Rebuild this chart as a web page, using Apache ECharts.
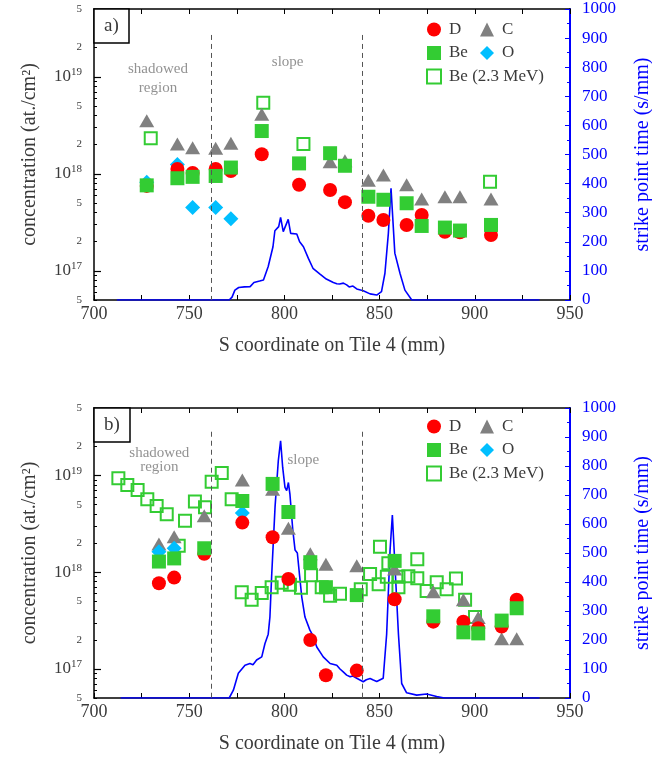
<!DOCTYPE html>
<html>
<head>
<meta charset="utf-8">
<title>Tile 4 concentrations</title>
<script src="https://cdn.jsdelivr.net/npm/echarts@6/dist/echarts.min.js"></script>
<style>
  html, body { margin: 0; padding: 0; background: #fff; }
  #chart { width: 652px; height: 760px; }
</style>
</head>
<body>
<div id="chart"></div>
<script>
// panel a) marker positions (S coordinate, mm) and concentrations (at./cm2)
const posA = [727.7, 743.8, 751.8, 763.9, 771.9, 788.1, 807.7, 824.0, 831.8, 844.1, 852.0, 864.2, 872.1, 884.3, 892.2, 908.5]
const dA  = [7.5e17, 1.12e18, 1.02e18, 1.12e18, 1.07e18, 1.59e18, 7.7e17, 6.8e17, 5.1e17, 3.7e17, 3.34e17, 2.97e17, 3.76e17, 2.53e17, 2.5e17, 2.34e17]
const cA  = [3.53e18, 2.03e18, 1.86e18, 1.83e18, 2.06e18, 4.1e18, null, 1.33e18, 1.36e18, 8.6e17, 9.7e17, 7.7e17, 5.5e17, 5.8e17, 5.8e17, 5.5e17]
const beA = [7.6e17, 9.0e17, 9.3e17, 9.5e17, 1.16e18, 2.76e18, 1.28e18, 1.63e18, 1.21e18, 5.8e17, 5.4e17, 4.97e17, 2.9e17, 2.79e17, 2.6e17, 2.97e17]
const oA  = [8.2e17, 1.25e18, 4.5e17, 4.5e17, 3.45e17, null, null, null, null, null, null, null, null, null, null, null]
const be23PosA = [729.8, 788.9, 810.0, 908.0]
const be23A    = [2.32e18, 5.4e18, 2.03e18, 8.3e17]

// panel b)
const posB = [734.1, 742.1, 757.9, 777.9, 793.8, 802.1, 813.6, 821.8, 838.0, 857.9, 878.2, 894.0, 901.8, 914.1, 922.0]
const dB  = [7.7e17, 8.8e17, 1.55e18, 3.26e18, 2.3e18, 8.5e17, 1.99e17, 8.6e16, 9.6e16, 5.25e17, 3.08e17, 3.08e17, 2.63e17, 2.74e17, 5.2e17]
const cB  = [1.96e18, 2.33e18, 3.85e18, 9.0e18, 7.2e18, 2.85e18, 1.55e18, 1.21e18, 1.17e18, 1.08e18, 6.3e17, 5.2e17, 3.4e17, 2.05e17, 2.05e17]
const beB = [1.29e18, 1.39e18, 1.77e18, 5.46e18, 8.2e18, 4.2e18, 1.27e18, 7.0e17, 5.8e17, 1.31e18, 3.5e17, 2.39e17, 2.33e17, 3.16e17, 4.24e17]
const oB  = [1.63e18, 1.77e18, null, 4.1e18, null, null, null, null, null, null, null, null, null, null, null]
const be23PosB = [712.8, 717.5, 722.9, 728.0, 732.9, 738.2, 744.5, 747.8, 753.0, 758.3, 761.8, 767.1, 772.3,
  777.6, 782.8, 788.1, 793.3, 798.6, 802.9, 808.7, 814.0, 819.6, 824.0, 829.2, 840.1, 845.0, 849.5, 850.2,
  853.8, 854.6, 859.9, 859.9, 865.1, 869.8, 869.8, 874.7, 880.0, 885.2, 890.1, 894.9, 900.1]
const be23B = [9.4e18, 7.98e18, 7.1e18, 5.7e18, 4.84e18, 3.97e18, 1.88e18, 3.41e18, 5.4e18, 4.7e18, 8.65e18, 1.06e19, 5.7e18,
  6.2e17, 5.2e17, 6.1e17, 7.0e17, 7.8e17, 7.4e17, 6.9e17, 9.3e17, 7.0e17, 5.7e17, 6.0e17, 6.65e17, 9.6e17, 7.5e17, 1.83e18,
  9.0e17, 1.24e18, 9.0e17, 7.0e17, 9.1e17, 1.36e18, 8.65e17, 6.4e17, 7.9e17, 6.65e17, 8.6e17, 5.2e17, 3.45e17]

// strike point time (s/mm) along S
const spXA = [712, 771, 772.5, 774, 776, 779, 782, 784, 787, 789, 791.5, 794, 795, 797, 798, 799.4, 800.3, 802, 803.3,
  806.5, 808, 810, 812.6, 815, 818.7, 822, 825.7, 827.5, 829, 831, 832.7, 834, 836, 838, 841.4, 845, 848.5, 851,
  852.8, 854.6, 856, 858, 860.7, 863.3, 866.9, 934]
const spYA = [0, 0, 10, 34, 43, 45, 46, 60, 65, 69, 115, 183, 238, 252, 284, 235, 229, 277, 229,
  227, 200, 183, 143, 109, 89, 72, 60, 56, 55, 58, 52, 45, 48, 38, 32, 21, 17, 29,
  92, 229, 384, 161, 92, 34, 0, 0]
const spXB = [714, 771, 773.2, 775.8, 779.3, 781.9, 783.5, 785.4, 788.1, 789.8, 791.5, 792.4, 793.3, 794.2, 795.1, 796.8,
  798, 799.1, 800.3, 801.2, 802.1, 802.9, 804.4, 805.6, 806.8, 808, 809.1, 810.8, 813.4, 815, 817, 820.4, 824,
  827.5, 829.2, 830.9, 832.7, 834.5, 836, 838, 839.7, 841.4, 843, 845, 846.7, 848.5, 851.9, 852.8, 853.7,
  855.5, 856.7, 858.1, 859.9, 861.6, 864.2, 869.5, 874.7, 880, 884, 934]
const spYB = [0, 0, 27, 85, 113, 119, 115, 131, 142, 188, 220, 280, 420, 540, 660, 818,
  887, 795, 726, 715, 743, 703, 580, 510, 500, 420, 349, 279, 234, 215, 176, 142, 119,
  113, 100, 90, 79, 73, 76, 68, 62, 56, 63, 67, 62, 57, 68, 70, 220,
  510, 631, 452, 220, 50, 18, 10, 14, 5, 0, 0]

const dashX = [761.4, 841.1]

const FONT = '"Liberation Serif", "DejaVu Serif", serif'
const GREEN = '#33cc33', RED = '#ff0000', GREY = '#808080', CYAN = '#00bfff', BLUE = '#0000ff'
const TXT = '#3a3a3a'

const decades = [1e17, 1e18, 1e19]
// end labels nudged just inside the range so they are not dropped
const logLabels = [5.001e16, 1e17, 2e17, 5e17, 1e18, 2e18, 5e18, 1e19, 2e19, 4.999e19]
let minorLog = []
;[1e16, 1e17, 1e18, 1e19].forEach(d => {
  for (let m = 2; m <= 9; m++) {
    let v = m * d
    if (v >= 5e16 && v <= 5e19) minorLog.push(v)
  }
})

function pairs(xs, ys) {
  return xs.map((x, i) => [x, ys[i]]).filter(p => p[1] != null)
}

function logFmt(v) {
  let e = Math.floor(Math.log10(v) + 1e-9)
  let m = Math.round(v / Math.pow(10, e))
  if (m === 1) return '{b|10}{e|' + e + '}'
  return '{m|' + m + '}'
}

const grids = [
  { left: 94, top: 9, width: 476, height: 291, outerBoundsMode: 'none', containLabel: false },
  { left: 94, top: 408, width: 476, height: 290, outerBoundsMode: 'none', containLabel: false }
]

const panels = [
  { pos: posA, d: dA, c: cA, be: beA, o: oA, p23: be23PosA, be23: be23A, spx: spXA, spy: spYA,
    dashTop: 2.7e19, shadow: [733.6, 9.6e18], shadowLH: 19, slope: [801.7, 1.42e19] },
  { pos: posB, d: dB, c: cB, be: beB, o: oB, p23: be23PosB, be23: be23B, spx: spXB, spy: spYB,
    dashTop: 2.84e19, shadow: [734.3, 1.46e19], shadowLH: 14, slope: [809.9, 1.45e19] }
]

let xAxis = [], yAxis = [], series = []

panels.forEach((p, k) => {
  let xi = 2 * k, yi = 3 * k
  // bottom and top x axes
  xAxis.push({
    gridIndex: k, type: 'value', min: 700, max: 950, interval: 25, position: 'bottom',
    name: 'S coordinate on Tile 4 (mm)', nameLocation: 'middle', nameGap: 36,
    nameTextStyle: { fontFamily: FONT, fontSize: 20, color: TXT },
    axisLine: { lineStyle: { color: '#000', width: 1.5 } },
    axisTick: { inside: true, length: 5, lineStyle: { color: '#000' } },
    axisLabel: { margin: 5, fontFamily: FONT, fontSize: 18, color: TXT,
      formatter: v => (v % 50 === 0 ? String(v) : '') },
    splitLine: { show: false }
  })
  xAxis.push({
    gridIndex: k, type: 'value', min: 700, max: 950, interval: 25, position: 'top',
    axisLine: { lineStyle: { color: '#000', width: 1.5 } },
    axisTick: { inside: true, length: 5, lineStyle: { color: '#000' } },
    axisLabel: { show: false }, splitLine: { show: false }
  })
  // left log axis: labels + minor ticks
  yAxis.push({
    gridIndex: k, type: 'log', logBase: 10, min: 5e16, max: 5e19, position: 'left',
    name: 'concentration (at./cm²)', nameLocation: 'middle', nameGap: 54, nameRotate: 90,
    nameTextStyle: { fontFamily: FONT, fontSize: 20, color: TXT },
    axisLine: { lineStyle: { color: '#000', width: 1.5 } },
    axisTick: { inside: true, length: 3, customValues: minorLog, lineStyle: { color: '#000' } },
    axisLabel: {
      margin: 12, customValues: logLabels, formatter: logFmt, showMinLabel: true, showMaxLabel: true,
      rich: {
        b: { fontFamily: FONT, fontSize: 17, color: TXT, lineHeight: 20 },
        e: { fontFamily: FONT, fontSize: 11, color: TXT, verticalAlign: 'top', lineHeight: 20 },
        m: { fontFamily: FONT, fontSize: 11, color: TXT }
      }
    },
    splitLine: { show: false }
  })
  // decade ticks
  yAxis.push({
    gridIndex: k, type: 'log', logBase: 10, min: 5e16, max: 5e19, position: 'left',
    axisLine: { show: false },
    axisTick: { inside: true, length: 7, customValues: decades, lineStyle: { color: '#000', width: 1.2 } },
    axisLabel: { show: false }, splitLine: { show: false }
  })
  // right: strike point time
  yAxis.push({
    gridIndex: k, type: 'value', min: 0, max: 1000, interval: 100, position: 'right',
    name: 'strike point time (s/mm)', nameLocation: 'middle', nameGap: 63, nameRotate: 90,
    nameTextStyle: { fontFamily: FONT, fontSize: 20, color: BLUE },
    axisLine: { show: true, lineStyle: { color: BLUE, width: 2 } },
    axisTick: { inside: true, length: 5, lineStyle: { color: BLUE } },
    minorTick: { show: true, splitNumber: 2, length: 3, lineStyle: { color: BLUE } },
    axisLabel: { margin: 12, fontFamily: FONT, fontSize: 17, color: BLUE, formatter: v => String(v) },
    splitLine: { show: false }
  })

  series.push({
    name: 'strike point', type: 'line', xAxisIndex: xi, yAxisIndex: yi + 2,
    data: pairs(p.spx, p.spy), showSymbol: false, symbol: 'none',
    lineStyle: { color: BLUE, width: 1.6 }, silent: true, z: 1
  })
  series.push({
    name: 'Be (2.3 MeV)', type: 'scatter', xAxisIndex: xi, yAxisIndex: yi,
    data: pairs(p.p23, p.be23), symbol: 'rect', symbolSize: 12,
    itemStyle: { color: 'rgba(255,255,255,0)', borderColor: GREEN, borderWidth: 2, opacity: 1 }, z: 2
  })
  series.push({
    name: 'C', type: 'scatter', xAxisIndex: xi, yAxisIndex: yi,
    data: pairs(p.pos, p.c), symbol: 'triangle', symbolSize: [15, 13],
    itemStyle: { color: GREY, opacity: 1 }, z: 2
  })
  series.push({
    name: 'O', type: 'scatter', xAxisIndex: xi, yAxisIndex: yi,
    data: pairs(p.pos, p.o), symbol: 'diamond', symbolSize: 15,
    itemStyle: { color: CYAN, opacity: 1 }, z: 2
  })
  series.push({
    name: 'D', type: 'scatter', xAxisIndex: xi, yAxisIndex: yi,
    data: pairs(p.pos, p.d), symbol: 'circle', symbolSize: 14,
    itemStyle: { color: RED, opacity: 1 }, z: 2
  })
  series.push({
    name: 'Be', type: 'scatter', xAxisIndex: xi, yAxisIndex: yi,
    data: pairs(p.pos, p.be), symbol: 'rect', symbolSize: 14,
    itemStyle: { color: GREEN, opacity: 1 }, z: 2
  })
  // region notes and boundaries
  series.push({
    name: 'notes', type: 'scatter', xAxisIndex: xi, yAxisIndex: yi, silent: true, z: 3,
    symbolSize: 0,
    data: [
      { value: p.shadow, label: { formatter: 'shadowed\nregion', lineHeight: p.shadowLH } },
      { value: p.slope, label: { formatter: 'slope' } }
    ],
    label: { show: true, position: 'inside', fontFamily: FONT, fontSize: 15, color: '#777' },
    markLine: {
      silent: true, symbol: ['none', 'none'], label: { show: false },
      lineStyle: { color: '#555', type: [5, 4], width: 1 },
      data: dashX.map(x => [{ coord: [x, p.dashTop] }, { coord: [x, 5e16] }])
    }
  })
})

const legendText = { fontFamily: FONT, fontSize: 17, color: TXT, lineHeight: 14, padding: [0, 0, 0, 3] }
function legendCol(left, top, names) {
  return {
    orient: 'vertical', left: left, top: top, data: names, itemWidth: 14, itemHeight: 14,
    itemGap: 6.5, selectedMode: false, textStyle: legendText, padding: 0
  }
}

const titleBox = (txt, top) => ({
  text: txt, left: 94, top: top, padding: [7, 10, 7, 10], borderWidth: 1.5, borderColor: '#000',
  backgroundColor: '#fff',
  textStyle: { fontFamily: FONT, fontSize: 19, fontWeight: 'normal', color: TXT, lineHeight: 20 }
})

const chart = echarts.init(document.getElementById('chart'), null, { renderer: 'canvas' })
chart.setOption({
  animation: false,
  backgroundColor: '#fff',
  title: [titleBox('a)', 9), titleBox('b)', 408)],
  legend: [
    legendCol(426, 21, ['D', 'Be', 'Be (2.3 MeV)']),
    legendCol(480, 21, ['C', 'O']),
    legendCol(426, 418, ['D', 'Be', 'Be (2.3 MeV)']),
    legendCol(480, 418, ['C', 'O'])
  ],
  grid: grids,
  xAxis: xAxis,
  yAxis: yAxis,
  series: series
})
</script>
</body>
</html>
